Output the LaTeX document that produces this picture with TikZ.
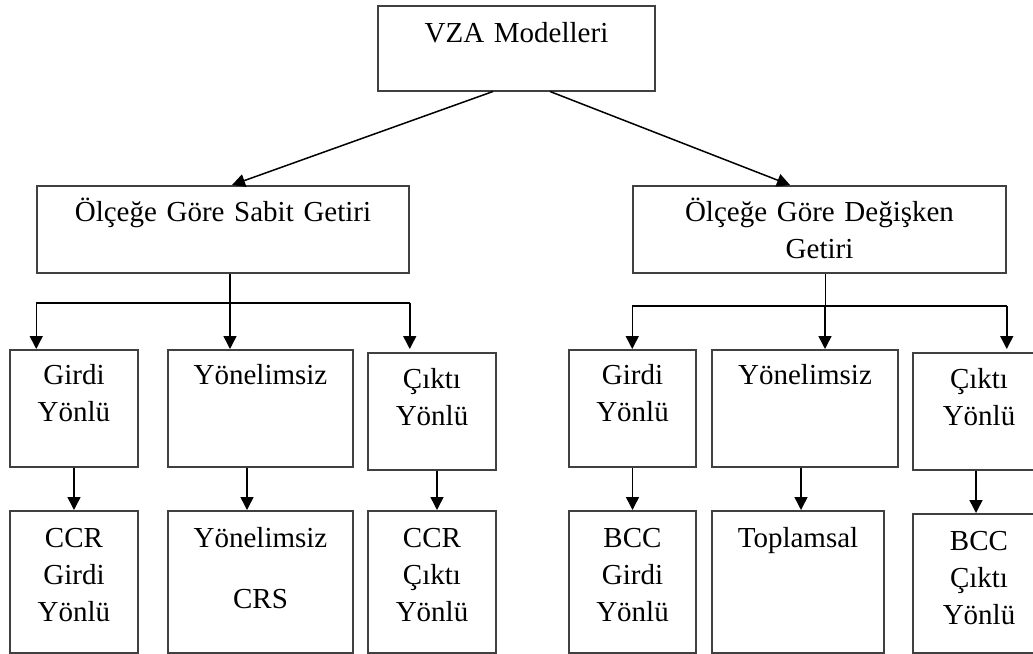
\documentclass[tikz,border=0pt]{standalone}
\usepackage{fontspec}
\setmainfont{Liberation Serif}
\usetikzlibrary{arrows.meta}

\begin{document}
\begin{tikzpicture}[x=0.5pt,y=-0.5pt,
    box/.style={draw=black!75,line width=0.75pt,inner sep=0pt,anchor=north,
        align=center,font=\fontsize{14.5}{18.5}\selectfont},
    midrow/.style={text height=17.5pt,text depth=41pt},
    lowrow/.style={text height=18.5pt,text depth=52.5pt},
    arr/.style={-{Triangle[length=6.5pt,width=6.5pt]},line width=0.75pt}]
    \useasboundingbox (0,0) rectangle (1033,653);
    \clip (0,0) rectangle (1033,653);
    % Root
    \node[box,text width=138.5pt,text height=18.5pt,text depth=24pt] (vza) at (516.5,5) {VZA Modelleri};
    % Level 1
    \node[box,text width=186pt,text height=18pt,text depth=25.5pt] (sabit) at (223,185) {Ölçeğe Göre Sabit Getiri};
    \node[box,text width=186.5pt,text height=18pt,text depth=25.5pt] (degisken) at (819.5,185) {Ölçeğe Göre Değişken\\Getiri};
    \draw[arr] ([xshift=-11.75pt]vza.south) -- ([xshift=4.5pt]sabit.north);
    \draw[arr] ([xshift=16.75pt]vza.south) -- ([xshift=-14.75pt]degisken.north);
    % Level 2
    \node[box,midrow,text width=64pt] (sgirdi) at (74,349) {Girdi\\Yönlü};
    \node[box,midrow,text width=92.5pt] (syon) at (260.5,349) {Yönelimsiz};
    \node[box,midrow,text width=64pt,text height=18pt,text depth=40.5pt] (scikti) at (432,352) {Çıktı\\Yönlü};
    \node[box,midrow,text width=63.5pt] (dgirdi) at (632.5,349) {Girdi\\Yönlü};
    \node[box,midrow,text width=93pt] (dyon) at (805,349) {Yönelimsiz};
    \node[box,midrow,text width=66pt,text height=18pt,text depth=40.5pt] (dcikti) at (979,352) {Çıktı\\Yönlü};
    % Level 3
    \node[box,lowrow,text width=64pt] (sccr) at (74,510) {CCR\\Girdi\\Yönlü};
    \node[box,lowrow,text width=92.5pt] (scrs) at (260.5,510) {Yönelimsiz\\[12pt]CRS};
    \node[box,lowrow,text width=64pt] (sccrc) at (432,510) {CCR\\Çıktı\\Yönlü};
    \node[box,lowrow,text width=63.5pt] (bgirdi) at (632.5,510) {BCC\\Girdi\\Yönlü};
    \node[box,lowrow,text width=86pt] (topl) at (798,510) {Toplamsal};
    \node[box,lowrow,text width=66pt,text depth=51pt] (bcikti) at (979,513) {BCC\\Çıktı\\Yönlü};
    % Buses
    \coordinate (sbus) at (230,303);
    \coordinate (dbus) at (825,306);
    \draw[line width=0.75pt] (sabit.south -| sbus) -- (sbus);
    \draw[line width=0.75pt] (sabit.west |- sbus) -- (sabit.east |- sbus);
    \draw[arr] (sabit.west |- sbus) -- (sabit.west |- sgirdi.north);
    \draw[arr] (sbus) -- (sbus |- syon.north);
    \draw[arr] (sabit.east |- sbus) -- (sabit.east |- syon.north);
    \draw[line width=0.5pt] (degisken.south -| dbus) -- (dbus);
    \draw[line width=0.75pt] (degisken.west |- dbus) -- (degisken.east |- dbus);
    \draw[arr] (degisken.west |- dbus) -- (degisken.west |- dgirdi.north);
    \draw[arr] (dbus) -- (dbus |- dyon.north);
    \draw[arr] (degisken.east |- dbus) -- (degisken.east |- dyon.north);
    % Level 2 to level 3
    \foreach \a/\b/\s in {sgirdi/sccr/0pt, syon/scrs/-6.75pt, scikti/sccrc/2.5pt,
                          dgirdi/bgirdi/0pt, dyon/topl/-2pt, dcikti/bcikti/-1.5pt}
        \draw[arr] ([xshift=\s]\a.south) -- ([xshift=\s]\a.south |- \b.north);
\end{tikzpicture}
\end{document}
